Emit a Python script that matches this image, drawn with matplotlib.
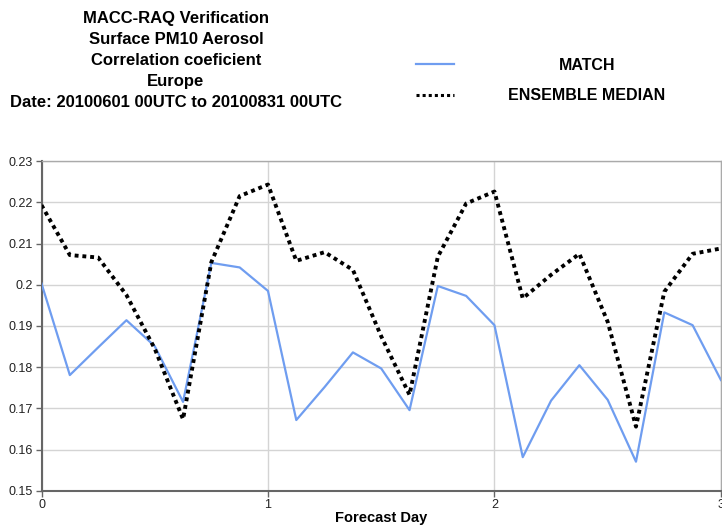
import matplotlib
matplotlib.use("Agg")
import matplotlib.pyplot as plt
from matplotlib.lines import Line2D

plt.rcParams['font.family'] = ['Liberation Sans', 'DejaVu Sans']

# forecast step every 3 hours over 3 days
steps = [i / 8 for i in range(25)]

match = [0.2003, 0.1781, 0.1848, 0.1914, 0.1851, 0.1716, 0.2053, 0.2042, 0.1985,
         0.1672, 0.1752, 0.1836, 0.1797, 0.1696, 0.1997, 0.1973, 0.1902,
         0.1582, 0.1719, 0.1805, 0.1721, 0.1571, 0.1933, 0.1902, 0.1769]

ens_median = [0.2193, 0.2072, 0.2066, 0.1975, 0.1845, 0.1674, 0.2055, 0.2215, 0.2243,
              0.2058, 0.2079, 0.2036, 0.1875, 0.1733, 0.2068, 0.2197, 0.2226,
              0.1967, 0.2024, 0.2075, 0.1910, 0.1656, 0.1983, 0.2075, 0.2088]

title_lines = ["MACC-RAQ Verification", "Surface PM10 Aerosol", "Correlation coeficient",
               "Europe", "Date: 20100601 00UTC to 20100831 00UTC"]
series_names = ["MATCH", "ENSEMBLE MEDIAN"]
blue = "#6f9df0"

fig = plt.figure(figsize=(7.22, 5.25), dpi=100)
ax = fig.add_axes([0.0575, 0.0648, 0.941, 0.6285])

ax.plot(steps, match, color=blue, lw=1.6, zorder=3)
ax.plot(steps, ens_median, color="black", lw=2.8, linestyle=(0, (1, 1)), zorder=4)

ax.set_xlim(0, 3)
ax.set_ylim(0.15, 0.23)
ax.set_xticks([0, 1, 2, 3])
ax.set_yticks([0.15, 0.16, 0.17, 0.18, 0.19, 0.2, 0.21, 0.22, 0.23])
ax.set_yticklabels(["0.15", "0.16", "0.17", "0.18", "0.19", "0.2", "0.21", "0.22", "0.23"])
ax.grid(True, color="#d4d4d4", lw=1)
ax.set_axisbelow(True)
ax.tick_params(labelsize=9, colors="#666666", labelcolor="#222222", length=4, width=1,
               pad=2)
for s in ["left", "bottom"]:
    ax.spines[s].set_color("#666666")
    ax.spines[s].set_linewidth(1.5)
for s in ["top", "right"]:
    ax.spines[s].set_color("#aaaaaa")
    ax.spines[s].set_linewidth(1)
ax.set_xlabel("Forecast Day", fontsize=10.5, fontweight="bold", labelpad=0)

# title block
for i, t in enumerate(title_lines):
    fig.text(176 / 722, 1 - (19 + i * 20.8) / 525, t, ha="center", va="center",
             fontsize=12, fontweight="bold")

# legend
fig.add_artist(Line2D([416 / 722, 454 / 722], [1 - 64 / 525] * 2, color=blue, lw=1.6))
fig.add_artist(Line2D([416 / 722, 454 / 722], [1 - 95 / 525] * 2, color="black", lw=2.2,
                      linestyle=(0, (1, 1))))
fig.text(587 / 722, 1 - 65 / 525, series_names[0], ha="center", va="center",
         fontsize=11.5, fontweight="bold")
fig.text(587 / 722, 1 - 96 / 525, series_names[1], ha="center", va="center",
         fontsize=11.5, fontweight="bold")

fig.savefig("out.png", dpi=100)
